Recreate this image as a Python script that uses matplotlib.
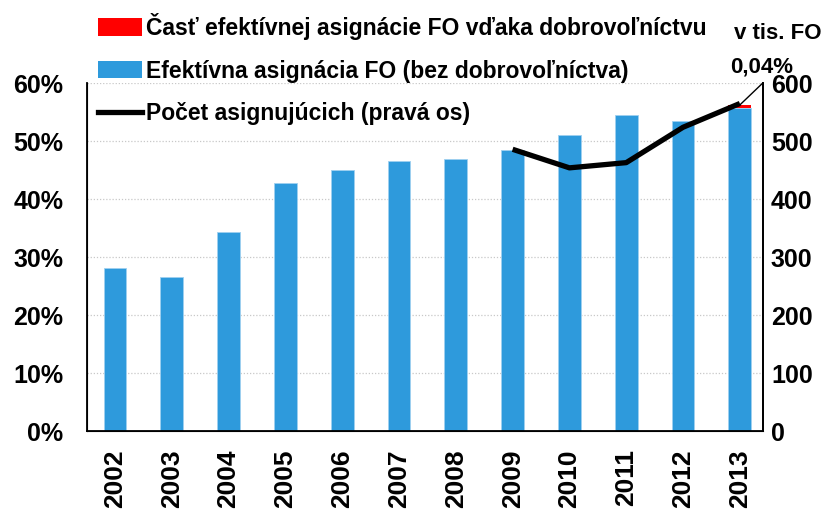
import matplotlib
matplotlib.use("Agg")
import matplotlib.pyplot as plt
from matplotlib.patches import Patch
from matplotlib.lines import Line2D

years = ["2002", "2003", "2004", "2005", "2006", "2007",
         "2008", "2009", "2010", "2011", "2012", "2013"]
# efektivna asignacia FO bez dobrovolnictva (%)
share_base = [28.2, 26.6, 34.3, 42.8, 45.0, 46.5, 47.0, 48.5, 51.1, 54.5, 53.5, 55.8]
# cast vdaka dobrovolnictvu (%), len 2013
share_vol = [0, 0, 0, 0, 0, 0, 0, 0, 0, 0, 0, 0.45]
# pocet asignujucich, tis. FO (prava os)
line_years = ["2009", "2010", "2011", "2012", "2013"]
line_vals = [486, 454, 463, 524, 565]

label_red = "Časť efektívnej asignácie FO vďaka dobrovoľníctvu"
label_blue = "Efektívna asignácia FO (bez dobrovoľníctva)"
label_line = "Počet asignujúcich (pravá os)"

blue = "#2E9ADC"
red = "#FF0000"

plt.rcParams['font.family'] = ['Liberation Sans', 'DejaVu Sans']
plt.rcParams['font.weight'] = 'bold'

fig = plt.figure(figsize=(8.38, 5.2), dpi=100)
ax = fig.add_axes([0.104, 0.171, 0.806, 0.669])

x = list(range(len(years)))
ax.bar(x, share_base, width=0.4, color=blue, edgecolor="#9fd0f0", linewidth=0.6, zorder=2)
ax.bar(x, share_vol, width=0.4, bottom=share_base, color=red, linewidth=0, zorder=2)

ax.set_xlim(-0.49, 11.4)
ax.set_ylim(0, 60)
ax.set_yticks([0, 10, 20, 30, 40, 50, 60])
ax.set_yticklabels([f"{v}%" for v in range(0, 70, 10)])
ax.set_xticks(x)
ax.set_xticklabels(years, rotation=90)
ax.tick_params(axis='x', length=0, labelsize=19, pad=13)
ax.tick_params(axis='y', length=0, labelsize=18, pad=17)
ax.yaxis.grid(True, linestyle=(0, (1, 1.5)), color="#c8c8c8", linewidth=0.9, zorder=0)
ax.set_axisbelow(True)
ax.spines['top'].set_visible(False)
for s in ['left', 'bottom', 'right']:
    ax.spines[s].set_linewidth(1.3)

ax2 = ax.twinx()
ax2.set_ylim(0, 600)
ax2.set_yticks(range(0, 700, 100))
ax2.tick_params(axis='y', length=0, labelsize=18, pad=6)
ax2.spines['top'].set_visible(False)
ax2.spines['right'].set_linewidth(1.3)
lx = [years.index(y) for y in line_years]
ax2.plot(lx, line_vals, color="black", linewidth=3.8, solid_capstyle='butt', zorder=5)

# anotacia podielu dobrovolnictva
top13 = share_base[-1] + share_vol[-1]
ax.annotate("", xy=(11, top13), xytext=(1.0, 1.0), textcoords='axes fraction',
            arrowprops=dict(arrowstyle='-', color='black', lw=1, shrinkA=0, shrinkB=0),
            zorder=6)
ax.text(0.9985, 1.046, "0,04%", transform=ax.transAxes, ha='center', va='center', fontsize=16)
ax.text(1.022, 1.144, "v tis. FO", transform=ax.transAxes, ha='center', va='center', fontsize=16)

handles = [Patch(facecolor=red), Patch(facecolor=blue),
           Line2D([0], [0], color='black', lw=3.8)]
fig.legend(handles, [label_red, label_blue, label_line], loc='upper left',
           bbox_to_anchor=(0.098, 1.006), frameon=False, fontsize=16.5,
           handlelength=1.9, handleheight=0.8, handletextpad=0.2, labelspacing=0.86,
           borderaxespad=0.3)

fig.savefig("out.png", dpi=100)
